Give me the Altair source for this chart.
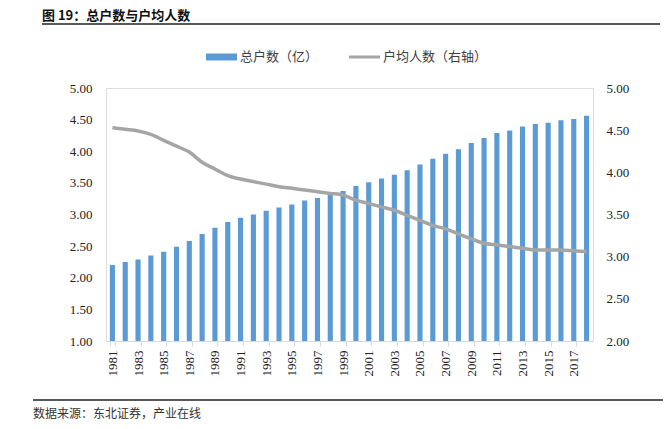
import altair as alt
import pandas as pd

years = list(range(1981, 2019))
households = [2.20, 2.25, 2.29, 2.35, 2.41, 2.49, 2.58, 2.69, 2.79, 2.88,
              2.95, 3.00, 3.06, 3.11, 3.16, 3.22, 3.26, 3.32, 3.37, 3.45,
              3.51, 3.57, 3.63, 3.70, 3.79, 3.88, 3.96, 4.03, 4.13, 4.21,
              4.29, 4.33, 4.39, 4.43, 4.45, 4.49, 4.51, 4.56]
persons = [4.53, 4.51, 4.49, 4.45, 4.38, 4.31, 4.24, 4.12, 4.04, 3.96,
           3.92, 3.89, 3.86, 3.83, 3.81, 3.79, 3.77, 3.75, 3.73, 3.67,
           3.63, 3.59, 3.55, 3.49, 3.43, 3.37, 3.33, 3.27, 3.21, 3.16,
           3.14, 3.12, 3.10, 3.08, 3.08, 3.08, 3.07, 3.06]
label_years = list(range(1981, 2019, 2))
left_ticks = [1.0, 1.5, 2.0, 2.5, 3.0, 3.5, 4.0, 4.5, 5.0]
right_ticks = [2.0, 2.5, 3.0, 3.5, 4.0, 4.5, 5.0]

title_text = "图 19：总户数与户均人数"
bar_name = "总户数（亿）"
line_name = "户均人数（右轴）"
source_text = "数据来源：东北证券，产业在线"

df = pd.DataFrame({"year": years, "households": households, "persons": persons})
dummy = pd.DataFrame({"a": [0]})

SERIF = "Liberation Serif"
CJK = "Noto Sans CJK SC"
BLUE = "#5B9BD5"
GRAY = "#A5A5A5"

x_enc = alt.X(
    "year:O",
    scale=alt.Scale(paddingInner=0.6, paddingOuter=0.3),
    axis=alt.Axis(
        title=None, values=label_years, labelAngle=270, labelFont=SERIF,
        labelFontSize=13, labelColor="#222", domainColor="#D9D9D9",
        tickColor="#D9D9D9", tickSize=5, tickBand="extent", labelPadding=4,
    ),
)

bars = alt.Chart(df).mark_bar(color=BLUE, clip=True).encode(
    x=x_enc,
    y=alt.Y(
        "households:Q",
        scale=alt.Scale(domain=[1, 5], nice=False, zero=False),
        axis=alt.Axis(
            title=None, values=left_ticks, format=".2f", orient="left",
            labelFont=SERIF, labelFontSize=13, labelColor="#222",
            domain=False, ticks=False, grid=False, labelPadding=14,
        ),
    ),
)

line = alt.Chart(df).mark_line(color=GRAY, strokeWidth=3.5, interpolate="monotone").encode(
    x=alt.X("year:O"),
    y=alt.Y(
        "persons:Q",
        scale=alt.Scale(domain=[2, 5], nice=False, zero=False),
        axis=alt.Axis(
            title=None, values=right_ticks, format=".2f", orient="right",
            labelFont=SERIF, labelFontSize=13, labelColor="#222",
            domain=False, ticks=False, grid=False, labelPadding=13,
        ),
    ),
)

base = alt.Chart(dummy)

title = base.mark_text(align="left", baseline="top", font=CJK, fontSize=13,
                       fontWeight="bold", color="#111").encode(
    x=alt.value(-64), y=alt.value(-78), text=alt.value(title_text))
top_rule = base.mark_rule(color="#222", strokeWidth=1.3).encode(
    x=alt.value(-64), x2=alt.value(554), y=alt.value(-64))
bottom_rule = base.mark_rule(color="#222", strokeWidth=1.3).encode(
    x=alt.value(-73), x2=alt.value(570), y=alt.value(312))
source = base.mark_text(align="left", baseline="middle", font=CJK, fontSize=12,
                        color="#333").encode(
    x=alt.value(-73), y=alt.value(326), text=alt.value(source_text))

leg_bar = base.mark_rule(color=BLUE, strokeWidth=7).encode(
    x=alt.value(100), x2=alt.value(131), y=alt.value(-31))
leg_bar_txt = base.mark_text(align="left", baseline="middle", font=CJK, fontSize=13,
                             color="#404040").encode(
    x=alt.value(134), y=alt.value(-31), text=alt.value(bar_name))
leg_line = base.mark_rule(color=GRAY, strokeWidth=3).encode(
    x=alt.value(243), x2=alt.value(274), y=alt.value(-31))
leg_line_txt = base.mark_text(align="left", baseline="middle", font=CJK, fontSize=13,
                              color="#404040").encode(
    x=alt.value(277), y=alt.value(-31), text=alt.value(line_name))

chart = alt.layer(
    bars, line, title, top_rule, bottom_rule, source,
    leg_bar, leg_bar_txt, leg_line, leg_line_txt,
).resolve_scale(y="independent").properties(
    width=487, height=253,
    autosize=alt.AutoSizeParams(type="none"),
    padding={"left": 98, "top": 80, "right": 70, "bottom": 80},
).configure_view(stroke=None).configure(background="white")

chart.save("out.html", embed_options={"renderer": "svg", "actions": False})
